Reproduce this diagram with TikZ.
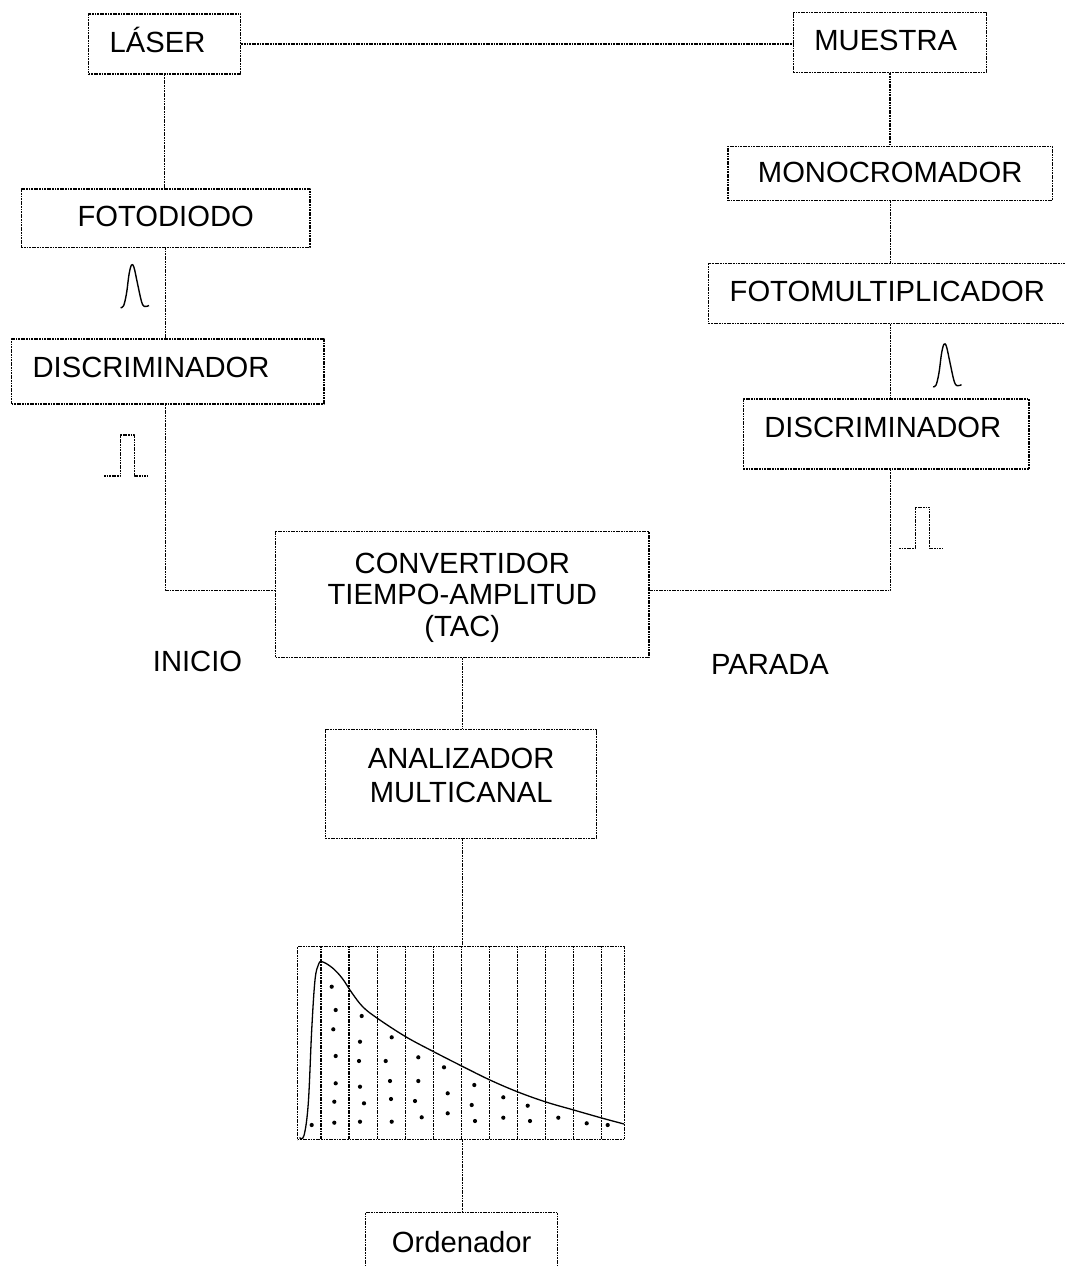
\documentclass[tikz,border=0pt]{standalone}
\usepackage{fontspec}
\setmainfont{Liberation Sans}

\begin{document}
\begin{tikzpicture}[x=1pt,y=-1pt,line join=round,
  punteado/.style={line width=1.3pt,dash pattern=on 1.8pt off 0.8pt},
  caja/.style={draw,punteado,anchor=north west,inner xsep=21pt,inner ysep=0pt,font=\fontsize{29.2}{31.7}\selectfont},
  cajaizq/.style={caja,align=left,text height=21pt},
  cajacen/.style={caja,align=center},
  etiqueta/.style={inner sep=0pt,font=\fontsize{29.2}{31.7}\selectfont},
  punto/.style={fill=black}]
\useasboundingbox (0,0) rectangle (1065,1266);

% cajas
\node[cajaizq,text width=110pt,minimum height=60pt,text depth=3.6pt] (laser) at (88,13.3) {LÁSER};
\node[cajaizq,text width=151pt,minimum height=60pt,text depth=5.6pt] (muestra) at (792.7,12) {MUESTRA};
\node[cajacen,minimum width=324.4pt,minimum height=54.3pt,text height=21pt,text depth=3pt] (mono) at (727.3,145.7) {MONOCROMADOR};
\node[cajacen,minimum width=288.6pt,minimum height=58.4pt,text height=21pt,text depth=5pt] (fotodiodo) at (20.7,188.3) {FOTODIODO};
\node[cajaizq,text width=322pt,minimum height=60pt,text depth=4.4pt] (fotomult) at (708,263) {FOTOMULTIPLICADOR};
\node[cajaizq,text width=270.3pt,minimum height=65pt,text depth=8pt] (discizq) at (11,338.3) {DISCRIMINADOR};
\node[cajaizq,text width=243.6pt,minimum height=70pt,text depth=13pt] (discder) at (742.7,398.3) {DISCRIMINADOR};
\node[cajacen,minimum width=373.3pt,minimum height=125.7pt,text depth=-4pt] (tac) at (275,531) {CONVERTIDOR\\TIEMPO-AMPLITUD\\(TAC)};
\node[cajacen,minimum width=271pt,minimum height=109pt,text depth=18pt,font=\fontsize{29.2}{34.5}\selectfont] (analizador) at (325,729) {ANALIZADOR\\MULTICANAL};
\node[draw,punteado,anchor=north west,minimum width=327pt,minimum height=193pt,inner sep=0pt] (histo) at (297,946) {};
\node[cajacen,minimum width=192pt,minimum height=60pt] (ordenador) at (365,1211.7) {Ordenador};

\node[etiqueta] (inicio) at (197.5,661.7) {INICIO};
\node[etiqueta] (parada) at (770,664) {PARADA};

% conexiones
\draw[punteado] (laser.east) -- (laser.east -| muestra.west);
\draw[punteado] (laser.south) -- (laser.south |- fotodiodo.north);
\draw[punteado] (fotodiodo.south) -- (fotodiodo.south |- discizq.north);
\draw[punteado] (fotodiodo.south |- discizq.south) |- ([yshift=4pt]tac.west);
\draw[punteado] (muestra.south) -- (muestra.south |- mono.north);
\draw[punteado] (mono.south) -- (mono.south |- fotomult.north);
\draw[punteado] (fotomult.south) -- (fotomult.south |- discder.north);
\draw[punteado] (fotomult.south |- discder.south) |- ([yshift=4pt]tac.east);
\draw[punteado] (tac.south) -- (tac.south |- analizador.north);
\draw[punteado] (tac.south |- analizador.south) -- (tac.south |- histo.north);
\draw[punteado] (tac.south |- histo.south) -- (tac.south |- ordenador.north);

% pulsos
\draw[line width=1.4pt,shift={(120.5,307.5)}] plot[smooth,tension=0.6] coordinates {(0,0) (3,-1.5) (6,-14) (8.5,-33) (11,-42.5) (13.5,-40) (17,-24) (21,-6) (24,-1) (28.5,-2)};
\draw[line width=1.4pt,shift={(933,386.7)}] plot[smooth,tension=0.6] coordinates {(0,0) (3,-1.5) (6,-14) (8.5,-33) (11,-42.5) (13.5,-40) (17,-24) (21,-6) (24,-1) (28.5,-2)};
\draw[punteado,shift={(104,476)}] (0,0) -- (16.5,0) -- (16.5,-41) -- (30.5,-41) -- (30.5,0) -- (43.5,0);
\draw[punteado,shift={(899,548.3)}] (0,0) -- (16.5,0) -- (16.5,-41) -- (30.5,-41) -- (30.5,0) -- (43.5,0);

% histograma
\foreach \i in {0,...,10}
  \draw[punteado] ({321+28.08*\i},946) -- ({321+28.08*\i},1139);
\draw[line width=1.3pt] plot[smooth,tension=0.6] coordinates {(299.5,1137.5) (304,1135.5) (308.3,1103) (311.7,1030) (315,980) (318.5,964.5) (322,961.7) (332,967.5) (342,978) (352,993) (363,1007) (377.7,1018.5) (405.7,1036.7) (433.7,1051.7) (461.7,1066) (490,1080) (518,1092) (546,1102) (573.7,1110) (601.7,1118) (624,1124)};
\foreach \px/\py in {311.7/1125,
  331.7/986.7, 335.7/1010, 333.3/1029.3, 335.7/1056, 335.7/1083.3, 334.3/1101.7, 334.3/1122.7,
  361.7/1016, 360/1041.7, 359/1061, 360/1086.7, 364/1103.3, 360/1121.7,
  391.7/1037.3, 385.7/1061, 390/1081, 391/1099, 391.7/1121.7,
  418.3/1057.3, 418.3/1081, 415/1101, 421.7/1117.3,
  444/1067.3, 447.7/1093.3, 447.7/1113.3,
  474.3/1085, 471.7/1105, 475/1121,
  503.3/1097.3, 503.3/1117.7,
  527.7/1105.7, 530/1121,
  558.3/1117.7, 586.7/1123.3, 607.7/1125}
  \fill[punto] (\px,\py) circle (2.1pt);
\end{tikzpicture}
\end{document}
